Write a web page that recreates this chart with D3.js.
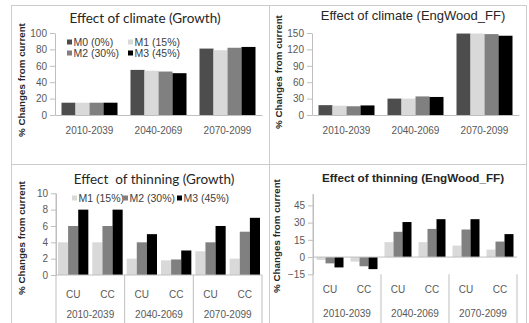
<!DOCTYPE html>
<html>
<head>
<meta charset="utf-8">
<script src="https://cdn.jsdelivr.net/npm/d3@7"></script>
<style>
  body { margin: 0; background: #fff; }
  svg { display: block; }
  .axis path, .axis line { stroke: #bfbfbf; }
  .axis text { fill: #595959; font-family: Arial, "Liberation Sans", sans-serif; font-size: 10px; }
  .lbl { fill: #595959; font-family: Arial, "Liberation Sans", sans-serif; font-size: 10px; }
</style>
</head>
<body>
<div id="chart"></div>
<script>
const periods = ['2010-2039', '2040-2069', '2070-2099']
const climateModels = ['M0 (0%)', 'M1 (15%)', 'M2 (30%)', 'M3 (45%)']
const thinModels = ['M1 (15%)', 'M2 (30%)', 'M3 (45%)']
const scenarios = ['CU', 'CC']

// Effect of climate (Growth), one value per period
const growthM0 = [15, 55, 81]
const growthM1 = [15, 54, 79]
const growthM2 = [15, 53, 82]
const growthM3 = [15, 51, 83]

// Effect of climate (EngWood_FF)
const engM0 = [18, 30, 149]
const engM1 = [17, 30, 149]
const engM2 = [16, 34, 148]
const engM3 = [17.5, 33, 145]

// Effect of thinning, order: 2010 CU, 2010 CC, 2040 CU, 2040 CC, 2070 CU, 2070 CC
const thinGrowthM1 = [4, 4, 2, 1.8, 2.9, 2]
const thinGrowthM2 = [6, 6, 4, 1.9, 4, 5.3]
const thinGrowthM3 = [8, 8, 5, 3, 6, 7]

const thinEngM1 = [-2.5, -4, 13, 13, 10, 6.5]
const thinEngM2 = [-5.5, -8, 22, 24.5, 24, 13.5]
const thinEngM3 = [-9, -10.5, 30.5, 33, 33, 20]

const climateTicksGrowth = [0, 20, 40, 60, 80, 100]
const climateTicksEng = [0, 30, 60, 90, 120, 150]
const thinTicksGrowth = [0, 2, 4, 6, 8, 10]
const thinTicksEng = [-15, 0, 15, 30, 45]

const greys = { 'M0 (0%)': '#4d4d4d', 'M1 (15%)': '#d9d9d9', 'M2 (30%)': '#808080', 'M3 (45%)': '#000000' }

const svg = d3.select('#chart').append('svg')
  .attr('width', 529)
  .attr('height', 323)
  .style('background', '#fff')

// panel borders
svg.append('rect').attr('x', 11.5).attr('y', 5.5).attr('width', 515).attr('height', 330)
  .attr('fill', 'none').attr('stroke', '#cccccc')
svg.append('line').attr('x1', 269.5).attr('x2', 269.5).attr('y1', 5).attr('y2', 323).attr('stroke', '#cccccc')
svg.append('line').attr('x1', 11).attr('x2', 527).attr('y1', 164.5).attr('y2', 164.5).attr('stroke', '#cccccc')

function yLabel(x, y) {
  svg.append('text')
    .attr('transform', `translate(${x}, ${y}) rotate(-90)`)
    .attr('text-anchor', 'middle')
    .attr('font-family', 'Arial, "Liberation Sans", sans-serif')
    .attr('font-weight', 'bold')
    .attr('font-size', '9.8px')
    .attr('fill', '#262626')
    .text('% Changes from current')
}

function title(x, y, txt, font, size, weight) {
  svg.append('text')
    .attr('x', x).attr('y', y)
    .attr('text-anchor', 'middle')
    .attr('font-family', font)
    .attr('font-size', size)
    .attr('font-weight', weight)
    .attr('fill', '#262626')
    .style('white-space', 'pre')
    .text(txt)
}

function climatePanel(p) {
  const xScale = d3.scaleBand().domain(periods).range([p.left, p.right])
  const xInner = d3.scaleBand().domain(climateModels).range([6.5, xScale.bandwidth() - 6.5])
  const yScale = d3.scaleLinear().domain(p.domain).range([p.bottom, p.top])

  p.series.forEach((vals, j) => {
    const m = climateModels[j]
    svg.append('g').selectAll('rect')
      .data(vals)
      .enter()
      .append('rect')
      .attr('x', (d, i) => xScale(periods[i]) + xInner(m))
      .attr('y', d => yScale(d))
      .attr('width', xInner.bandwidth())
      .attr('height', d => yScale(0) - yScale(d))
      .attr('fill', greys[m])
  })

  svg.append('g').attr('class', 'axis')
    .attr('transform', `translate(${p.left},0)`)
    .call(d3.axisLeft(yScale).tickValues(p.ticks).tickSize(5).tickSizeOuter(0).tickPadding(3))
  svg.append('g').attr('class', 'axis')
    .attr('transform', `translate(0,${p.bottom})`)
    .call(d3.axisBottom(xScale).tickSize(0).tickPadding(12))
}

function thinPanel(p) {
  const xScale = d3.scaleBand().domain(periods).range([p.left, p.right])
  const xSub = d3.scaleBand().domain(scenarios).range([0, xScale.bandwidth()])
  const xInner = d3.scaleBand().domain(thinModels).range([p.pad, xSub.bandwidth() - p.pad])
  const yScale = d3.scaleLinear().domain(p.domain).range([p.bottom, p.top])

  p.series.forEach((vals, j) => {
    const m = thinModels[j]
    svg.append('g').selectAll('rect')
      .data(vals)
      .enter()
      .append('rect')
      .attr('x', (d, i) => xScale(periods[Math.floor(i / 2)]) + xSub(scenarios[i % 2]) + xInner(m))
      .attr('y', d => Math.min(yScale(d), yScale(0)))
      .attr('width', xInner.bandwidth())
      .attr('height', d => Math.abs(yScale(0) - yScale(d)))
      .attr('fill', greys[m])
  })

  svg.append('g').attr('class', 'axis')
    .attr('transform', `translate(${p.left},0)`)
    .call(d3.axisLeft(yScale).tickValues(p.ticks).tickSize(5).tickSizeOuter(0).tickPadding(3))

  // zero line
  svg.append('line').attr('x1', p.left).attr('x2', p.right)
    .attr('y1', yScale(0)).attr('y2', yScale(0)).attr('stroke', '#bfbfbf')

  // category dividers
  const bounds = periods.map(d => xScale(d)).concat([p.right])
  svg.append('g').selectAll('line')
    .data(bounds)
    .enter()
    .append('line')
    .attr('x1', d => d).attr('x2', d => d)
    .attr('y1', (d, i) => i === 0 ? p.top : yScale(p.domain[0]))
    .attr('y2', 323)
    .attr('stroke', '#bfbfbf')

  periods.forEach(per => {
    scenarios.forEach(s => {
      svg.append('text').attr('class', 'lbl')
        .attr('x', xScale(per) + xSub(s) + xSub.bandwidth() / 2)
        .attr('y', p.subY)
        .attr('text-anchor', 'middle')
        .text(s)
    })
    svg.append('text').attr('class', 'lbl')
      .attr('x', xScale(per) + xScale.bandwidth() / 2)
      .attr('y', p.perY)
      .attr('text-anchor', 'middle')
      .text(per)
  })
}

function legendItem(x, y, m) {
  svg.append('rect').attr('x', x).attr('y', y - 2.5).attr('width', 5).attr('height', 5).attr('fill', greys[m])
  svg.append('text').attr('class', 'lbl')
    .attr('x', x + 6.5).attr('y', y + 3.5)
    .style('fill', '#404040')
    .style('font-size', '10.5px')
    .text(m)
}

// top left
climatePanel({ left: 55, right: 262, top: 33, bottom: 115, domain: [0, 100], ticks: climateTicksGrowth,
  series: [growthM0, growthM1, growthM2, growthM3] })
title(145, 23, 'Effect of climate (Growth)', 'Lato, "Open Sans", sans-serif', '13.5px', 'normal')
yLabel(25, 80)
legendItem(67, 42, climateModels[0])
legendItem(128, 42, climateModels[1])
legendItem(67, 53, climateModels[2])
legendItem(128, 53, climateModels[3])

// top right
climatePanel({ left: 312, right: 519, top: 33, bottom: 115, domain: [0, 150], ticks: climateTicksEng,
  series: [engM0, engM1, engM2, engM3] })
title(413, 20, 'Effect of climate (EngWood_FF)', 'Arial, "Liberation Sans", sans-serif', '13px', 'normal')
yLabel(282, 72)

// bottom left
thinPanel({ left: 56, right: 262, top: 193.3, bottom: 275, domain: [0, 10], ticks: thinTicksGrowth, pad: 2,
  series: [thinGrowthM1, thinGrowthM2, thinGrowthM3], subY: 298, perY: 318 })
title(154, 184, 'Effect  of thinning (Growth)', 'Lato, "Open Sans", sans-serif', '13.5px', 'normal')
yLabel(25, 238)
legendItem(72, 198, thinModels[0])
legendItem(123, 198, thinModels[1])
legendItem(177, 198, thinModels[2])

// bottom right
thinPanel({ left: 313, right: 517, top: 193.9, bottom: 274.3, domain: [-15, 55], ticks: thinTicksEng, pad: 3.5,
  series: [thinEngM1, thinEngM2, thinEngM3], subY: 293, perY: 317 })
title(413, 182, 'Effect of thinning (EngWood_FF)', 'Arial, "Liberation Sans", sans-serif', '11.7px', 'bold')
yLabel(280, 236)
</script>
</body>
</html>
